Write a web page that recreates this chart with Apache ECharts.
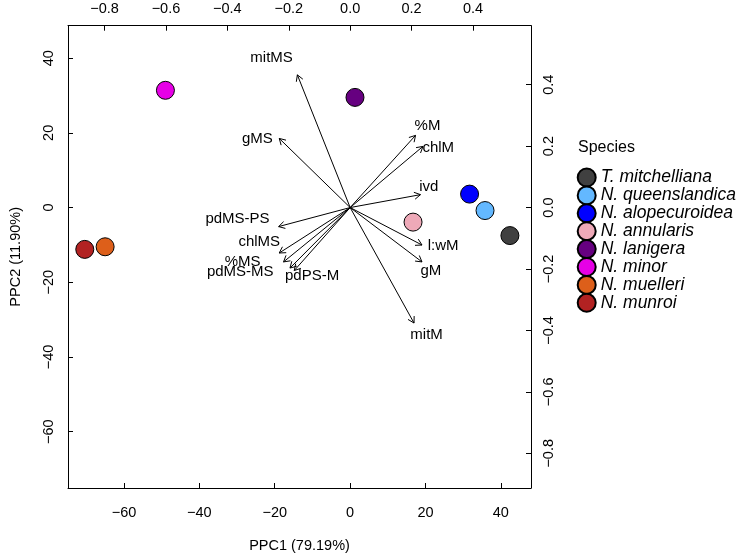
<!DOCTYPE html>
<html>
<head>
<meta charset="utf-8">
<script src="https://cdn.jsdelivr.net/npm/echarts@6/dist/echarts.min.js"></script>
<style>
html,body{margin:0;padding:0;background:#fff;}
#chart{width:742px;height:558px;}
</style>
</head>
<body>
<div id="chart"></div>
<script>
// ---- data ----
const species = ['T. mitchelliana','N. queenslandica','N. alopecuroidea','N. annularis','N. lanigera','N. minor','N. muelleri','N. munroi'];
const speciesColors = ['#404040','#63B8FF','#0000FF','#EEA9B8','#660080','#E600E6','#DD5F1A','#B22222'];
const pc1 = [42.4, 35.8, 31.7, 16.7, 1.3, -49.0, -65.0, -70.4];
const pc2 = [-7.5, -0.8, 3.6, -3.9, 29.5, 31.4, -10.5, -11.2];

const variables = ['mitMS','gMS','%M','chlM','ivd','pdMS-PS','chlMS','%MS','pdMS-MS','pdPS-M','l:wM','gM','mitM'];
const loadX = [-0.172,-0.231,0.213,0.237,0.229,-0.233,-0.231,-0.217,-0.196,-0.182,0.234,0.234,0.208];
const loadY = [0.432,0.225,0.235,0.199,0.042,-0.062,-0.148,-0.177,-0.197,-0.205,-0.122,-0.177,-0.376];
const labelX = [-0.256,-0.302,0.252,0.287,0.256,-0.367,-0.296,-0.350,-0.358,-0.124,0.303,0.263,0.249];
const labelY = [0.488,0.224,0.266,0.194,0.068,-0.037,-0.113,-0.177,-0.209,-0.223,-0.126,-0.205,-0.413];

const xTicks = [-60,-40,-20,0,20,40];
const yTicks = [-60,-40,-20,0,20,40];
const x2Ticks = [-0.8,-0.6,-0.4,-0.2,0.0,0.2,0.4];
const y2Ticks = [-0.8,-0.6,-0.4,-0.2,0.0,0.2,0.4];

const xRange = [-74.85, 48.0];
const yRange = [-75.1, 48.7];
const x2Range = [-0.919, 0.589];
const y2Range = [-0.913, 0.592];

// ---- helpers ----
const FONT = "'Liberation Sans', Arial, sans-serif";
const minus = s => String(s).replace('-', '\u2212');
const fmtInt = v => minus(Math.round(v));
const fmt1 = v => minus((Math.abs(v) < 1e-9 ? 0 : v).toFixed(1));

function axisCommon(ticks, fmt, margin, rotate) {
  return {
    type: 'value',
    scale: true,
    axisLine: {show: true, onZero: false, lineStyle: {color: '#000', width: 1}},
    axisTick: {show: true, inside: true, length: 5, customValues: ticks, lineStyle: {color: '#000', width: 1}},
    axisLabel: {show: true, customValues: ticks, formatter: fmt, color: '#000', fontSize: 14.5, fontFamily: FONT, margin: margin, rotate: rotate || 0},
    splitLine: {show: false}
  };
}

const chart = echarts.init(document.getElementById('chart'), null, {renderer: 'canvas'});

const scatterSeries = species.map((name, i) => ({
  name: name,
  type: 'scatter',
  xAxisIndex: 0,
  yAxisIndex: 0,
  symbol: 'circle',
  symbolSize: 18,
  z: 5,
  itemStyle: {color: speciesColors[i], borderColor: '#000', borderWidth: 1, opacity: 1},
  emphasis: {disabled: true},
  data: [[pc1[i], pc2[i]]]
}));

const arrowData = variables.map((v, i) => [loadX[i], loadY[i]]);
const labelData = variables.map((v, i) => [labelX[i], labelY[i], v]);

const option = {
  animation: false,
  backgroundColor: '#fff',
  grid: {left: 63.7, right: 211, top: 25.7, bottom: 65.7, containLabel: false},
  xAxis: [
    Object.assign(axisCommon(xTicks, fmtInt, 17), {
      position: 'bottom', min: xRange[0], max: xRange[1],
      name: 'PPC1 (79.19%)', nameLocation: 'middle', nameGap: 50,
      nameTextStyle: {color: '#000', fontSize: 14.5, fontFamily: FONT}
    }),
    Object.assign(axisCommon(x2Ticks, fmt1, 9), {
      position: 'top', min: x2Range[0], max: x2Range[1]
    })
  ],
  yAxis: [
    Object.assign(axisCommon(yTicks, fmtInt, 12, 90), {
      position: 'left', min: yRange[0], max: yRange[1],
      name: 'PPC2 (11.90%)', nameLocation: 'middle', nameGap: 45, nameRotate: 90,
      nameTextStyle: {color: '#000', fontSize: 14.5, fontFamily: FONT}
    }),
    Object.assign(axisCommon(y2Ticks, fmt1, 10, 90), {
      position: 'right', min: y2Range[0], max: y2Range[1]
    })
  ],
  legend: {
    orient: 'vertical',
    left: 576.7,
    top: 167.5,
    padding: 0,
    itemWidth: 18,
    itemHeight: 18,
    itemGap: -2.1,
    icon: 'circle',
    selectedMode: false,
    data: species,
    textStyle: {fontSize: 17.5, fontStyle: 'italic', color: '#000', fontFamily: FONT, lineHeight: 18}
  },
  graphic: [{
    type: 'text', left: 578, top: 140,
    style: {text: 'Species', fontSize: 16, fill: '#000', fontFamily: FONT}
  }],
  series: scatterSeries.concat([
    {
      type: 'custom',
      name: 'loadings',
      coordinateSystem: 'cartesian2d',
      xAxisIndex: 1,
      yAxisIndex: 1,
      z: 3,
      silent: true,
      encode: {x: 0, y: 1},
      data: arrowData,
      renderItem: function (params, api) {
        const p0 = api.coord([0, 0]);
        const p1 = api.coord([api.value(0), api.value(1)]);
        const ang = Math.atan2(p1[1] - p0[1], p1[0] - p0[0]);
        const L = 7, a = Math.PI / 6;
        const h1 = [p1[0] - L * Math.cos(ang - a), p1[1] - L * Math.sin(ang - a)];
        const h2 = [p1[0] - L * Math.cos(ang + a), p1[1] - L * Math.sin(ang + a)];
        return {
          type: 'group',
          children: [
            {type: 'line', shape: {x1: p0[0], y1: p0[1], x2: p1[0], y2: p1[1]}, style: {stroke: '#000', lineWidth: 1}},
            {type: 'polyline', shape: {points: [h1, p1, h2]}, style: {stroke: '#000', fill: null, lineWidth: 1}}
          ]
        };
      }
    },
    {
      type: 'custom',
      name: 'labels',
      coordinateSystem: 'cartesian2d',
      xAxisIndex: 1,
      yAxisIndex: 1,
      z: 4,
      silent: true,
      encode: {x: 0, y: 1},
      data: labelData,
      renderItem: function (params, api) {
        const p = api.coord([api.value(0), api.value(1)]);
        return {
          type: 'text',
          x: p[0], y: p[1],
          style: {text: labelData[params.dataIndex][2], fontSize: 15, fontFamily: FONT, fill: '#000', align: 'center', verticalAlign: 'middle'}
        };
      }
    }
  ])
};

chart.setOption(option);
</script>
</body>
</html>
